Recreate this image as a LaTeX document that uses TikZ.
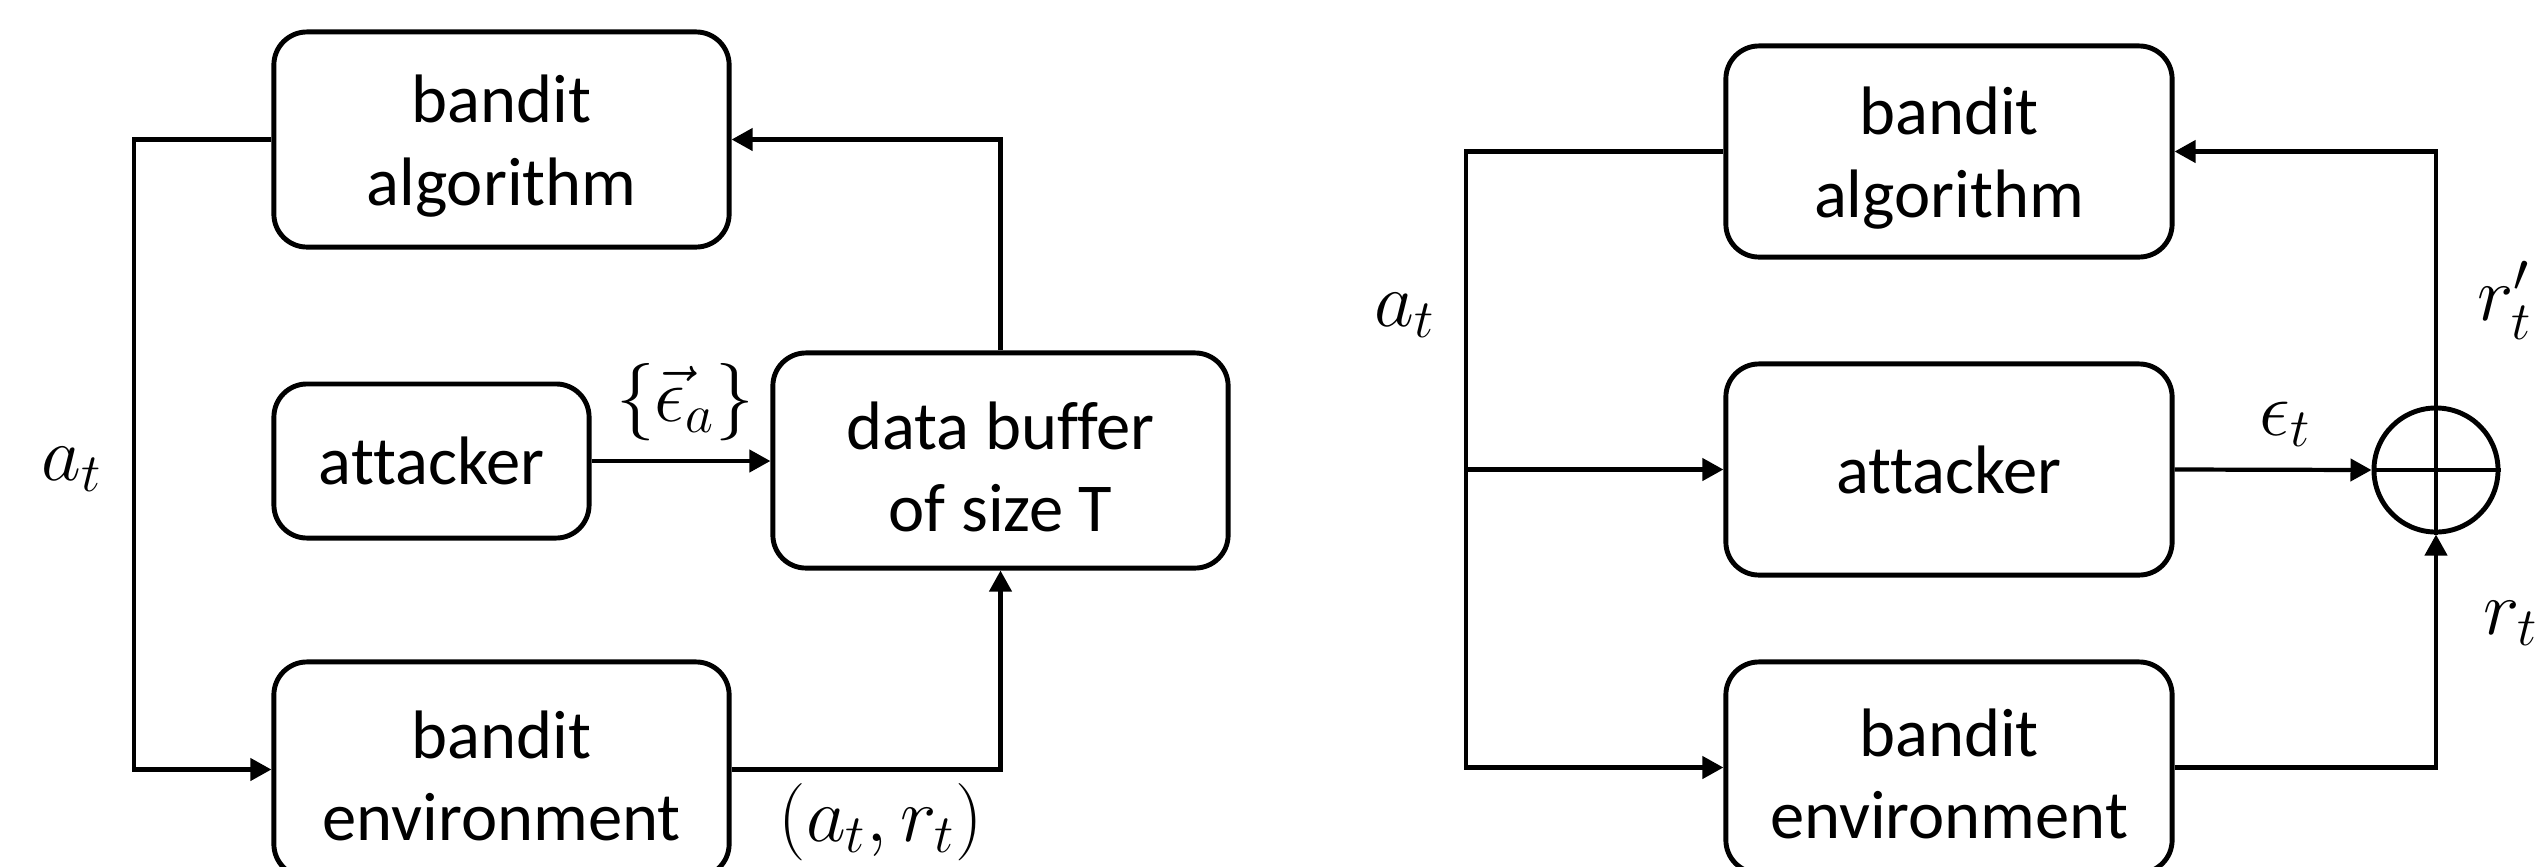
\RequirePackage{fix-cm}
\documentclass[tikz,border=0pt]{standalone}
\usepackage{fontspec}
\setmainfont{Carlito}[Ligatures=NoCommon]
\usetikzlibrary{arrows.meta}
\newcommand{\tallstrut}{\rule{0pt}{17.2pt}}
\begin{document}
\begin{tikzpicture}[x=0.01cm,y=-0.01cm,
  blk/.style={draw, line width=1.4pt, rounded corners=0.33cm, align=center, inner sep=0pt, font=\fontsize{19.5}{23.5}\selectfont},
  conn/.style={line width=1.2pt},
  arr/.style={conn, -{Triangle[length=0.21cm,width=0.22cm]}},
  lbl/.style={inner sep=0pt, font=\fontsize{22}{26}\selectfont}]
\path[use as bounding box, clip] (0,0) rectangle (2544,866);
% left panel
\node[blk, minimum width=4.55cm, minimum height=2.15cm] (algL) at (501.5,139.5) {\tallstrut bandit\\algorithm};
\node[blk, minimum width=3.15cm, minimum height=1.54cm] (attL) at (431.5,461) {attacker};
\node[blk, minimum width=4.55cm, minimum height=2.15cm] (bufL) at (1000.5,460.5) {\tallstrut data buffer\\of size T};
\node[blk, minimum width=4.55cm, minimum height=2.15cm] (envL) at (501.5,769.5) {\tallstrut bandit\\environment};
% right panel
\node[blk, minimum width=4.46cm, minimum height=2.11cm] (algR) at (1949,151.5) {\tallstrut bandit\\algorithm};
\node[blk, minimum width=4.46cm, minimum height=2.11cm] (attR) at (1949,469.5) {attacker};
\node[blk, minimum width=4.46cm, minimum height=2.11cm] (envR) at (1949,767.5) {\tallstrut bandit\\environment};
\node[draw, circle, line width=1.4pt, minimum size=1.24cm, inner sep=0pt] (sum) at (2436,470) {};
% labels
\node[lbl, anchor=base west] (atL) at (41,480) {$a_t$};
\node[lbl, anchor=base] (epsa) at (685,421) {$\{\vec{\epsilon}_a\}$};
\node[lbl, anchor=base] (atrt) at (881,841) {$(a_t,r_t)$};
\node[lbl, anchor=base west] (atR) at (1374,326) {$a_t$};
\node[lbl, anchor=base west] (epst) at (2259,435) {$\epsilon_t$};
\node[lbl, anchor=base west] (rpt) at (2477,320) {$r'_t$};
\node[lbl, anchor=base west] (rt) at (2483,634) {$r_t$};
% connectors left
\coordinate (lL) at (134,0);
\coordinate (lR) at (1466,0);
\draw[arr] (algL.west) -| (lL |- envL.west) -- (envL.west);
\draw[arr] (attL.east) -- (attL.east -| bufL.west);
\draw[arr] (envL.east) -| (bufL.south);
\draw[arr] (bufL.north) |- (algL.east);
% connectors right
\draw[arr] (algR.west) -| (lR |- envR.west) -- (envR.west);
\draw[arr] (lR |- attR.west) -- (attR.west);
\draw[arr] (attR.east) -- (sum.west);
\draw[arr] (envR.east) -| (sum.south);
\draw[arr] (sum.north) |- (algR.east);
\draw[conn] (sum.north) -- (sum.south) (sum.west) -- (sum.east);
\end{tikzpicture}
\end{document}
